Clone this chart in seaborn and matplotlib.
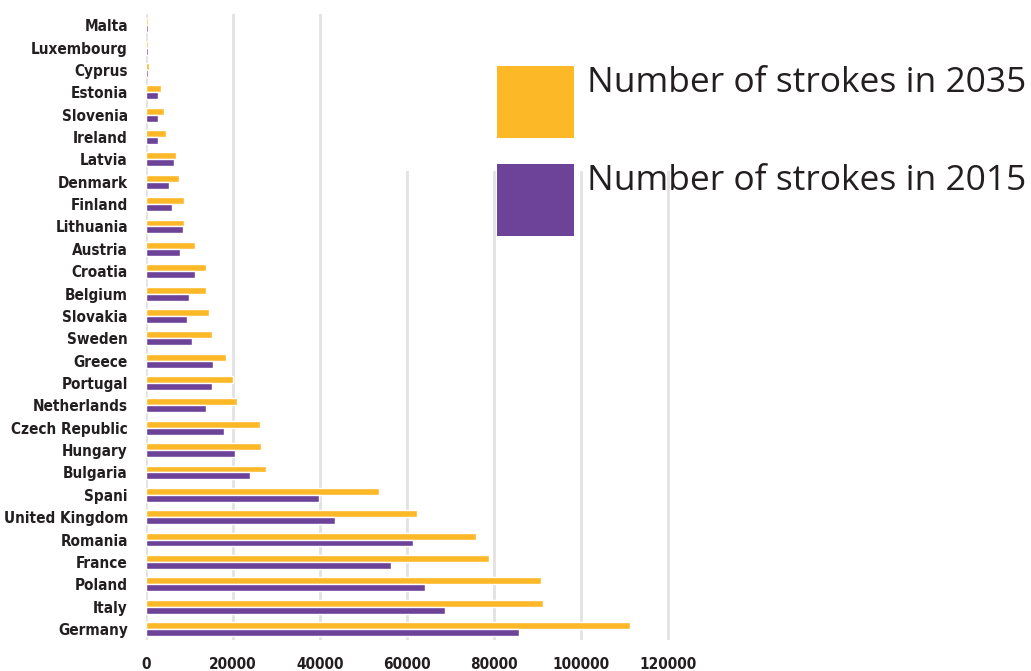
import numpy as np
import pandas as pd
import matplotlib as mpl
import matplotlib.pyplot as plt
import seaborn as sns
from matplotlib.patches import Rectangle

# data (top to bottom)
countries = ['Malta', 'Luxembourg', 'Cyprus', 'Estonia', 'Slovenia', 'Ireland', 'Latvia',
             'Denmark', 'Finland', 'Lithuania', 'Austria', 'Croatia', 'Belgium', 'Slovakia',
             'Sweden', 'Greece', 'Portugal', 'Netherlands', 'Czech Republic', 'Hungary',
             'Bulgaria', 'Spani', 'United Kingdom', 'Romania', 'France', 'Poland', 'Italy', 'Germany']
strokes_2035 = [500, 500, 800, 3400, 4100, 4500, 6900,
                7700, 8800, 8700, 11200, 13900, 13900, 14400,
                15200, 18500, 20100, 21000, 26200, 26500,
                27600, 53600, 62400, 76000, 78800, 90800, 91400, 111400]
strokes_2015 = [400, 400, 550, 2800, 2700, 2700, 6500,
                5200, 6000, 8400, 7800, 11200, 10000, 9500,
                10700, 15500, 15200, 13700, 18000, 20400,
                24000, 39800, 43400, 61400, 56300, 64100, 68900, 85900]
series = ['Number of strokes in 2035', 'Number of strokes in 2015']
colors = ['#FDB827', '#6C4399']

df = pd.DataFrame({'country': countries * 2,
                   'value': strokes_2035 + strokes_2015,
                   'series': [series[0]] * len(countries) + [series[1]] * len(countries)})

sns.set_style('white')
fig = plt.figure(figsize=(10.31, 6.71), dpi=100)
ax = fig.add_axes([0.1416, 0.046, 0.527, 0.933])

sns.barplot(data=df, x='value', y='country', hue='series', hue_order=series,
            palette=colors, width=0.62, orient='h', ax=ax, legend=False,
            saturation=1, zorder=3)

ax.set_xlim(0, 125000)
ax.set_xticks([0, 20000, 40000, 60000, 80000, 100000, 120000])
ax.set_xlabel('')
ax.set_ylabel('')
ax.grid(axis='x', color='#e2e2e2', linewidth=2, zorder=0)
ax.grid(axis='y', visible=False)
ax.set_axisbelow(True)
sns.despine(ax=ax, left=True, bottom=True)
ax.tick_params(length=0)
ax.tick_params(axis='y', pad=13)
ax.tick_params(axis='x', pad=12)

for lab in ax.get_xticklabels() + ax.get_yticklabels():
    lab.set_family(['DejaVu Sans'])
    lab.set_fontstretch('condensed')
    lab.set_fontweight('bold')
    lab.set_fontsize(11)
    lab.set_color('#231f20')

# white block behind legend hides the upper gridlines
fig.add_artist(Rectangle((0.385, 0.745), 0.62, 0.26, transform=fig.transFigure,
                         facecolor='white', edgecolor='none', zorder=2))

# legend: big colour squares with text beside
sq_y = [0.794, 0.648]
txt_y = [0.863, 0.717]
for c, lbl, sy, ty in zip(colors, series, sq_y, txt_y):
    fig.add_artist(Rectangle((0.482, sy), 0.0747, 0.108, transform=fig.transFigure,
                             facecolor=c, edgecolor='none', zorder=3))
    fig.text(0.569, ty, lbl, fontsize=25.5, color='#231f20', va='baseline',
             family=['Open Sans', 'DejaVu Sans'], zorder=4)

plt.savefig('out.png', dpi=100)
